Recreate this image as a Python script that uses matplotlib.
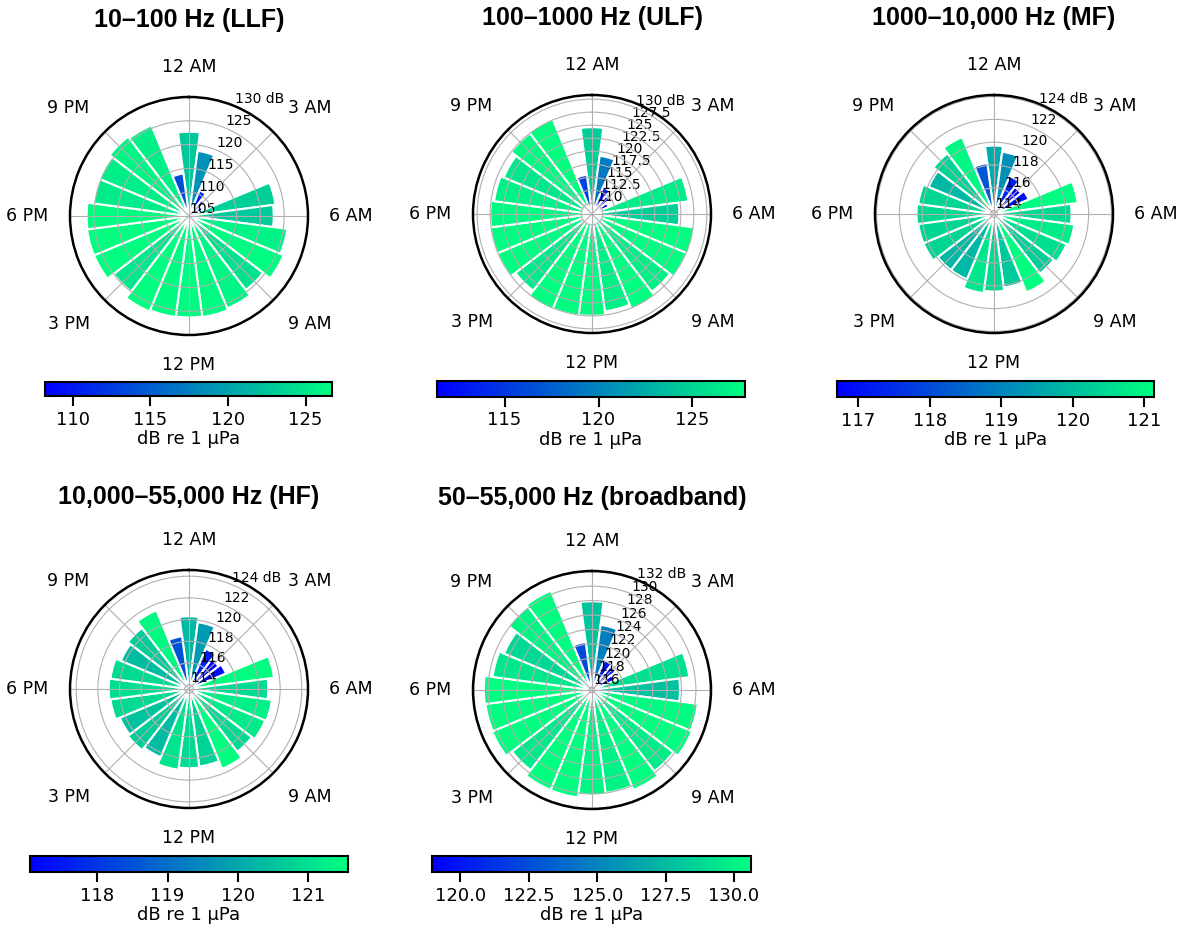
import numpy as np
import matplotlib
matplotlib.use('Agg')
import matplotlib.pyplot as plt
from matplotlib import cm, colors

# hourly levels (dB re 1 uPa), hour 0 = 12 AM
hours = np.arange(24)
llf = [122.7, 118.8, 110.8, 109.3, 108.2, 123.3, 122.8, 125.8, 126.5, 124.6, 126.0, 126.4,
       126.3, 126.4, 126.7, 125.0, 126.6, 126.6, 126.5, 125.2, 125.4, 126.0, 125.6, 114.0]
ulf = [124.6, 119.2, 113.5, 112.3, 111.4, 126.6, 124.7, 127.8, 127.6, 126.8, 127.7, 126.8,
       127.5, 127.6, 127.8, 126.5, 127.6, 127.6, 127.5, 126.9, 126.3, 127.5, 127.7, 115.5]
mf = [119.7, 119.2, 117.3, 116.7, 117.0, 121.1, 120.5, 120.8, 120.6, 120.3, 121.14, 120.2,
      120.5, 120.7, 119.9, 119.9, 120.4, 120.4, 120.5, 120.4, 119.9, 120.4, 121.0, 118.2]
hf = [120.3, 119.8, 117.6, 117.04, 117.3, 121.5, 120.9, 121.3, 121.2, 120.9, 121.57, 120.8,
      120.9, 121.1, 120.4, 120.7, 120.5, 120.9, 121.0, 120.9, 120.4, 120.7, 121.45, 118.5]
broad = [127.9, 124.7, 120.1, 119.7, 118.96, 129.2, 127.8, 130.4, 130.6, 129.8, 130.6, 130.0,
         130.2, 130.62, 130.6, 129.6, 130.6, 130.5, 130.6, 129.5, 128.8, 130.2, 130.5, 122.3]

titles = ['10\u2013100 Hz (LLF)', '100\u20131000 Hz (ULF)', '1000\u201310,000 Hz (MF)',
          '10,000\u201355,000 Hz (HF)', '50\u201355,000 Hz (broadband)']
series = [llf, ulf, mf, hf, broad]
rlims = [(105.2, 129.8), (107.9, 130.8), (113.7, 124.14), (113.6, 124.57), (115.6, 132.1)]
rticks = [np.arange(105, 131, 5), np.arange(110, 130.1, 2.5), np.arange(114, 125, 2),
          np.arange(114, 125, 2), np.arange(116, 133, 2)]
cticks = [[110, 115, 120, 125], [115, 120, 125], [117, 118, 119, 120, 121],
          [118, 119, 120, 121], [120, 122.5, 125, 127.5, 130]]
cfmt = ['%g', '%g', '%g', '%g', '%.1f']
hour_labels = ['12 AM', '3 AM', '6 AM', '9 AM', '12 PM', '3 PM', '6 PM', '9 PM']

# layout in figure pixels: polar centres and colorbar boxes
W, H = 1185, 931
centres = [(189, 216), (592, 214), (994, 214), (189, 689), (592, 690)]
R = 119
cbars = [(45, 332, 389), (437, 745, 389), (837, 1154, 389), (30, 348, 864), (432, 751, 864)]

fig = plt.figure(figsize=(W / 100, H / 100), dpi=100)

for i, vals in enumerate(series):
    vals = np.array(vals)
    vmin, vmax = vals.min(), vals.max()
    norm = colors.Normalize(vmin, vmax)
    cmap = plt.get_cmap('winter')
    cx, cy = centres[i]
    ax = fig.add_axes([(cx - R) / W, 1 - (cy + R) / H, 2 * R / W, 2 * R / H], projection='polar')
    ax.set_theta_zero_location('N')
    ax.set_theta_direction(-1)
    rmin, rmax = rlims[i]
    theta = hours * 2 * np.pi / 24
    ax.bar(theta, vals - rmin, width=2 * np.pi / 24, bottom=rmin,
           color=cmap(norm(vals)), edgecolor='white', linewidth=1.5, zorder=1)
    ax.set_ylim(rmin, rmax)
    ax.set_xticks(np.arange(8) * np.pi / 4)
    ax.set_xticklabels([])
    # hour labels placed just outside the circle, aligned away from it
    for k, lab in enumerate(hour_labels):
        a = k * np.pi / 4
        s, c = np.sin(a), np.cos(a)
        ha = 'left' if s > 0.1 else ('right' if s < -0.1 else 'center')
        va = 'bottom' if c > 0.1 else ('top' if c < -0.1 else 'center')
        ax.text(0.5 + 0.59 * s, 0.5 + 0.59 * c, lab, transform=ax.transAxes,
                ha=ha, va=va, fontsize=12.5)
    rt = rticks[i]
    ax.set_yticks(rt)
    lbls = ['%g' % v for v in rt]
    lbls[-1] = lbls[-1] + ' dB'
    ax.set_yticklabels(lbls, fontsize=10)
    ax.set_rlabel_position(22.5)
    ax.grid(color='#b0b0b0', linewidth=0.8)
    ax.set_axisbelow(False)
    ax.spines['polar'].set_linewidth(1.8)
    ax.spines['polar'].set_zorder(5)
    toff = 196 if i < 3 else 192
    fig.text(cx / W, 1 - (cy - toff) / H, titles[i], ha='center', va='center',
             fontsize=18, fontweight='bold', family='Liberation Sans')

    x0, x1, yc = cbars[i]
    h = (x1 - x0) / 20
    cax = fig.add_axes([x0 / W, 1 - (yc + h / 2) / H, (x1 - x0) / W, h / H])
    cb = fig.colorbar(cm.ScalarMappable(norm=norm, cmap=cmap), cax=cax,
                      orientation='horizontal', ticks=cticks[i], format=cfmt[i])
    cb.outline.set_linewidth(1.5)
    cb.ax.tick_params(labelsize=13, width=1.5, length=7)
    cb.set_label('dB re 1 \u03bcPa', fontsize=13, labelpad=1)

fig.savefig('out.png', dpi=100)
